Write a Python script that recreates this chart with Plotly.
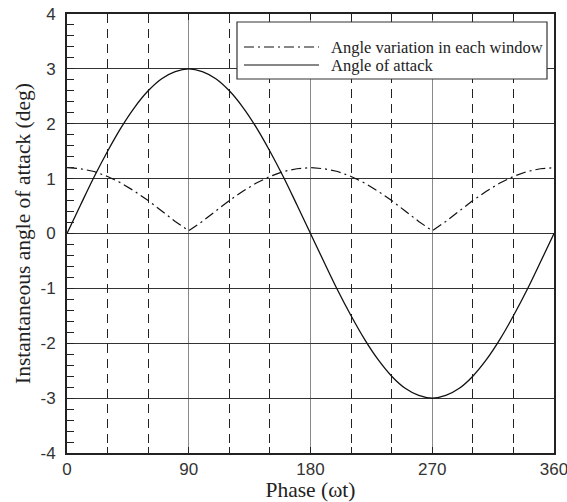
import plotly.graph_objects as go

# Phase (deg) samples
phase = list(range(0, 361, 10))

# Angle of attack (deg)
angle_of_attack = [0.00, 0.52, 1.03, 1.50, 1.93, 2.30, 2.60, 2.82, 2.95, 3.00,
                   2.95, 2.82, 2.60, 2.30, 1.93, 1.50, 1.03, 0.52, 0.00,
                   -0.52, -1.03, -1.50, -1.93, -2.30, -2.60, -2.82, -2.95, -3.00,
                   -2.95, -2.82, -2.60, -2.30, -1.93, -1.50, -1.03, -0.52, 0.00]

# Angle variation in each window (deg)
angle_variation = [1.20, 1.18, 1.13, 1.04, 0.92, 0.77, 0.60, 0.41, 0.22, 0.05,
                   0.22, 0.41, 0.60, 0.77, 0.92, 1.04, 1.13, 1.18, 1.20,
                   1.18, 1.13, 1.04, 0.92, 0.77, 0.60, 0.41, 0.22, 0.05,
                   0.22, 0.41, 0.60, 0.77, 0.92, 1.04, 1.13, 1.18, 1.20]

x_ticks = [0, 90, 180, 270, 360]
y_ticks = [-4, -3, -2, -1, 0, 1, 2, 3, 4]
y_ticktext = ["-4", "-3", "-2", "-1", "0", "1", "2", "3", "4"]
legend_labels = ["Angle variation in each window", "Angle of attack"]

SERIF = "Liberation Serif, Times New Roman, serif"
SANS = "Liberation Sans, Arial, sans-serif"
DASHDOT = "10px,4px,2px,4px"

L, R, T, B = 67, 13, 14, 49
PW, PH = 567 - L - R, 502 - T - B


def px_x(p):
    return (p - L) / PW


def px_y(p):
    return (502 - B - p) / PH


fig = go.Figure()
fig.add_trace(go.Scatter(x=phase, y=angle_variation, mode="lines",
                         line=dict(color="#111", width=1.2, dash=DASHDOT),
                         showlegend=False))
fig.add_trace(go.Scatter(x=phase, y=angle_of_attack, mode="lines",
                         line=dict(color="#111", width=1.3, shape="spline"),
                         showlegend=False))

# manual legend box
fig.add_shape(type="rect", xref="paper", yref="paper",
              x0=px_x(237), x1=px_x(547), y0=px_y(79), y1=px_y(22),
              line=dict(color="#333", width=1.2), fillcolor="white", layer="above")
rows = [47, 65]
dashes = [DASHDOT, "solid"]
for lab, yy, dsh in zip(legend_labels, rows, dashes):
    yp = px_y(yy)
    fig.add_shape(type="line", xref="paper", yref="paper",
                  x0=px_x(244), x1=px_x(319), y0=yp, y1=yp,
                  line=dict(color="#111", width=1.2, dash=dsh), layer="above")
    fig.add_annotation(xref="paper", yref="paper", x=px_x(329), y=yp,
                       text=lab, showarrow=False, xanchor="left", yanchor="middle",
                       font=dict(family=SERIF, size=16.5, color="#222"))

fig.update_xaxes(range=[0, 360], tickvals=x_ticks, ticks="inside", ticklen=6,
                 tickcolor="#222", showgrid=True, gridcolor="#8a8a8a", gridwidth=1.3,
                 minor=dict(dtick=30, tick0=0, ticks="inside", ticklen=6, tickcolor="#222",
                            showgrid=True, gridcolor="#222", griddash="9px,6px", gridwidth=1),
                 showline=True, linecolor="#222", linewidth=2, mirror="ticks",
                 zeroline=False, automargin=False, ticklabeloverflow="allow",
                 tickfont=dict(family=SANS, size=17, color="#333"),
                 title=dict(text="Phase (ωt)", font=dict(family=SERIF, size=21.5, color="#222"),
                            standoff=2))
fig.update_yaxes(range=[-4, 4], tickvals=y_ticks, ticktext=y_ticktext,
                 ticks="inside", ticklen=7,
                 tickcolor="#222", showgrid=True, gridcolor="#333", gridwidth=1,
                 minor=dict(dtick=0.2, tick0=0, ticks="inside", ticklen=7, tickcolor="#222",
                            showgrid=False),
                 showline=True, linecolor="#222", linewidth=2, mirror=True,
                 zeroline=False, ticklabelstandoff=6, automargin=False,
                 ticklabeloverflow="allow",
                 tickfont=dict(family=SANS, size=17, color="#333"),
                 title=dict(text="Instantaneous angle of attack (deg)",
                            font=dict(family=SERIF, size=21.5, color="#222"), standoff=4))

fig.update_layout(width=567, height=502, margin=dict(l=L, r=R, t=T, b=B),
                  plot_bgcolor="white", paper_bgcolor="white", showlegend=False)

fig.write_html("out.html")
